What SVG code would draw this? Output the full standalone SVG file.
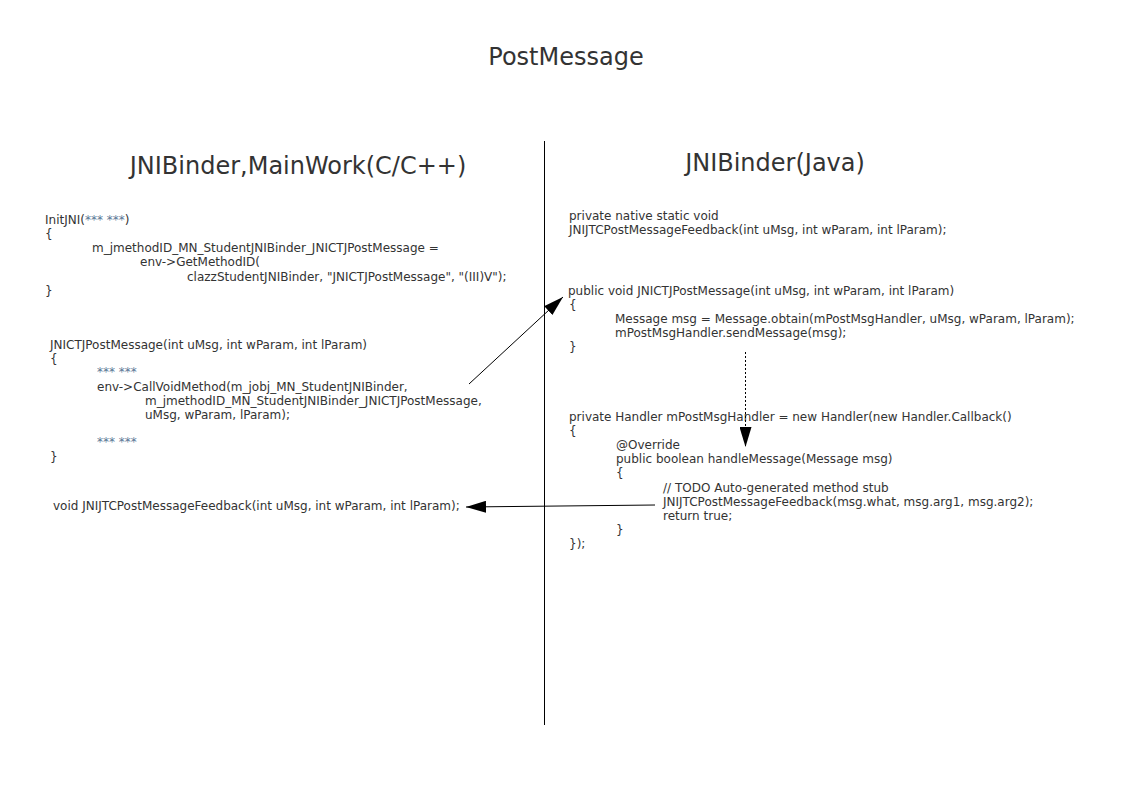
<svg xmlns="http://www.w3.org/2000/svg" width="1123" height="794" viewBox="0 0 1123 794">
<style>
text{font-family:"DejaVu Sans",Verdana,sans-serif;fill:#333333}
.title{font-size:24px}
.hdr{font-size:24px}
.code{font-size:12px}
.star{fill:#5a7896}
.conn{stroke:#000;stroke-width:1;fill:none}
</style>
<defs>
<marker id="ah" viewBox="0 0 20 12" refX="20" refY="6" markerWidth="20" markerHeight="12" markerUnits="userSpaceOnUse" orient="auto">
<path d="M0,0 L20,6 L0,12 Z" fill="#000"/>
</marker>
</defs>
<rect width="1123" height="794" fill="#fff"/>
<g id="title"><text class="title" x="566" y="65" text-anchor="middle">PostMessage</text></g>
<g id="divider"><line x1="544.5" y1="141" x2="544.5" y2="725" stroke="#000" stroke-width="1"/></g>
<g id="header-left"><text class="hdr" x="298" y="174" text-anchor="middle">JNIBinder,MainWork(C/C++)</text></g>
<g id="header-right"><text class="hdr" x="775" y="171" text-anchor="middle">JNIBinder(Java)</text></g>

<g id="initjni">
<text class="code" x="45" y="224">InitJNI(<tspan class="star">*** ***</tspan>)</text>
<text class="code" x="45" y="238">{</text>
<text class="code" x="92" y="252">m_jmethodID_MN_StudentJNIBinder_JNICTJPostMessage =</text>
<text class="code" x="140" y="266">env-&gt;GetMethodID(</text>
<text class="code" x="187" y="281">clazzStudentJNIBinder, "JNICTJPostMessage", "(III)V");</text>
<text class="code" x="45" y="295">}</text>
</g>

<g id="jnictj-c">
<text class="code" x="50" y="349">JNICTJPostMessage(int uMsg, int wParam, int lParam)</text>
<text class="code" x="50" y="363">{</text>
<text class="code star" x="97" y="376">*** ***</text>
<text class="code" x="97" y="391">env-&gt;CallVoidMethod(m_jobj_MN_StudentJNIBinder,</text>
<text class="code" x="145" y="405">m_jmethodID_MN_StudentJNIBinder_JNICTJPostMessage,</text>
<text class="code" x="145" y="419">uMsg, wParam, lParam);</text>
<text class="code star" x="97" y="446">*** ***</text>
<text class="code" x="50" y="461">}</text>
</g>

<g id="feedback-c">
<text class="code" x="53" y="510">void JNIJTCPostMessageFeedback(int uMsg, int wParam, int lParam);</text>
</g>

<g id="native-decl">
<text class="code" x="569" y="220">private native static void</text>
<text class="code" x="569" y="234">JNIJTCPostMessageFeedback(int uMsg, int wParam, int lParam);</text>
</g>

<g id="jnictj-java">
<text class="code" x="568" y="295">public void JNICTJPostMessage(int uMsg, int wParam, int lParam)</text>
<text class="code" x="569" y="309">{</text>
<text class="code" x="615" y="323">Message msg = Message.obtain(mPostMsgHandler, uMsg, wParam, lParam);</text>
<text class="code" x="615" y="337">mPostMsgHandler.sendMessage(msg);</text>
<text class="code" x="569" y="351">}</text>
</g>

<g id="handler">
<text class="code" x="569" y="421">private Handler mPostMsgHandler = new Handler(new Handler.Callback()</text>
<text class="code" x="569" y="435">{</text>
<text class="code" x="616" y="449">@Override</text>
<text class="code" x="616" y="463">public boolean handleMessage(Message msg)</text>
<text class="code" x="616" y="477">{</text>
<text class="code" x="663" y="492">// TODO Auto-generated method stub</text>
<text class="code" x="663" y="506">JNIJTCPostMessageFeedback(msg.what, msg.arg1, msg.arg2);</text>
<text class="code" x="663" y="520">return true;</text>
<text class="code" x="616" y="534">}</text>
<text class="code" x="569" y="548">});</text>
</g>

<g id="connectors">
<line class="conn" x1="469" y1="384" x2="563" y2="297" marker-end="url(#ah)"/>
<line class="conn" x1="745.5" y1="352" x2="745.5" y2="447" stroke-dasharray="2,2" marker-end="url(#ah)"/>
<line class="conn" x1="655" y1="505" x2="466" y2="507" marker-end="url(#ah)"/>
</g>
</svg>
